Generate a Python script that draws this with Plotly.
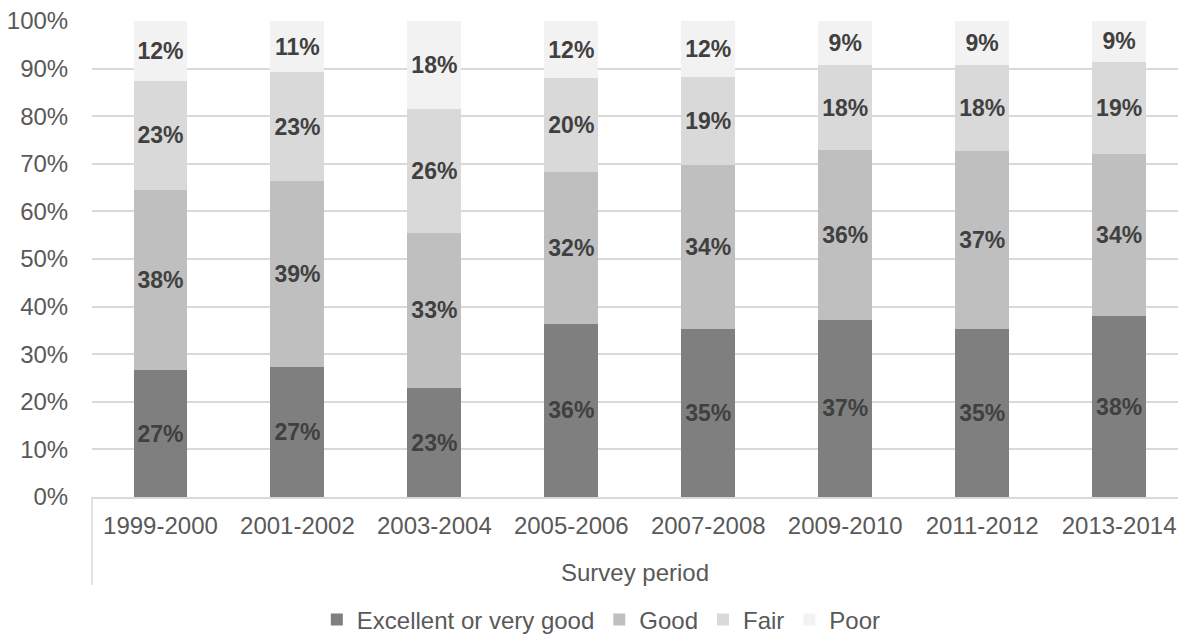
import plotly.graph_objects as go

periods = ["1999-2000", "2001-2002", "2003-2004", "2005-2006",
           "2007-2008", "2009-2010", "2011-2012", "2013-2014"]
excellent = [26.6, 27.3, 22.9, 36.4, 35.4, 37.2, 35.4, 38.0]
good = [37.8, 39.1, 32.6, 31.9, 34.3, 35.7, 37.2, 34.1]
fair = [23.1, 22.8, 26.0, 19.7, 18.6, 17.8, 18.1, 19.3]
poor = [12.4, 10.8, 18.4, 12.0, 11.7, 9.3, 9.3, 8.6]

series = [
    ("Excellent or very good", excellent, "#7f7f7f"),
    ("Good", good, "#bfbfbf"),
    ("Fair", fair, "#d9d9d9"),
    ("Poor", poor, "#f2f2f2"),
]

FONT = "Arial, 'Liberation Sans', sans-serif"

fig = go.Figure()
for name, vals, color in series:
    fig.add_trace(go.Bar(
        x=periods, y=vals, name=name,
        marker=dict(color=color, line=dict(width=0)),
        texttemplate="%{y:.0f}%",
        textposition="inside",
        insidetextanchor="middle",
        textangle=0,
        constraintext="none",
        textfont=dict(family=FONT, size=23, color="#404040", weight="bold"),
        hoverinfo="skip",
    ))

fig.update_layout(
    barmode="stack",
    bargap=0.606,
    width=1178, height=635,
    margin=dict(l=92, r=0, t=21, b=138, autoexpand=False),
    paper_bgcolor="white",
    plot_bgcolor="white",
    font=dict(family=FONT, size=24, color="#595959"),
    showlegend=True,
    legend=dict(
        orientation="h",
        x=0.469, xanchor="center",
        y=-0.258, yanchor="middle",
        font=dict(family=FONT, size=24, color="#595959"),
        traceorder="normal",
        itemclick=False,
        itemwidth=30,
    ),
    xaxis=dict(
        range=[-0.5, 7.43],
        showline=True, linecolor="#d9d9d9", linewidth=1.5,
        showgrid=False,
        ticks="outside", ticklen=0, tickcolor="rgba(0,0,0,0)",
        ticklabelstandoff=6,
        tickfont=dict(family=FONT, size=24, color="#595959"),
        title=dict(text="Survey period", standoff=27,
                   font=dict(family=FONT, size=24, color="#595959")),
    ),
    yaxis=dict(
        range=[0, 100], dtick=10, ticksuffix="%",
        showgrid=True, gridcolor="#d9d9d9", gridwidth=1.5,
        zeroline=False, showline=False,
        ticks="outside", ticklen=0, tickcolor="rgba(0,0,0,0)",
        ticklabelstandoff=18,
        tickfont=dict(family=FONT, size=24, color="#595959"),
    ),
    shapes=[dict(type="line", xref="paper", yref="paper",
                 x0=0, x1=0, y0=0, y1=-0.185,
                 line=dict(color="#d9d9d9", width=1.5))],
)

fig.write_html("out.html")
